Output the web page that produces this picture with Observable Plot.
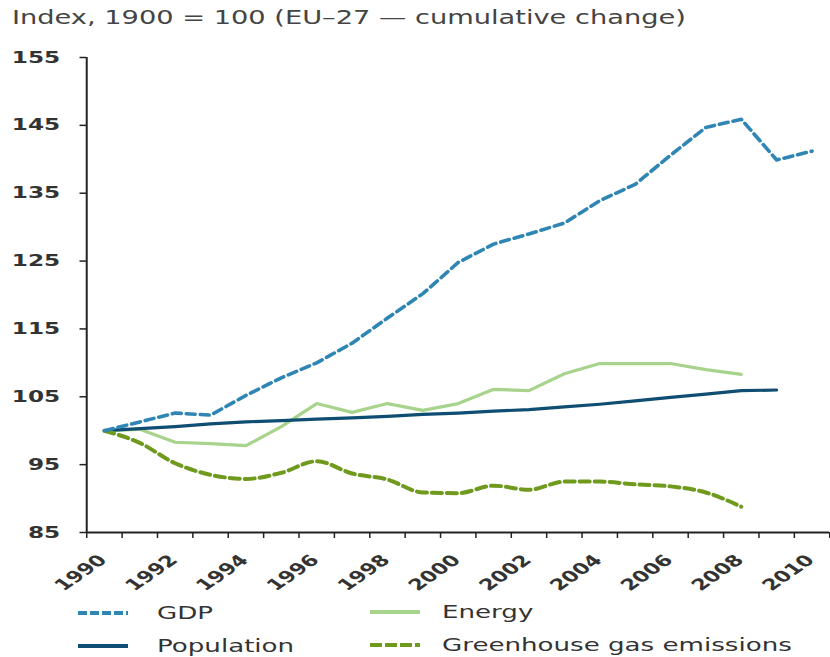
<!DOCTYPE html>
<html>
<head>
<meta charset="utf-8">
<script src="https://cdn.jsdelivr.net/npm/d3@7"></script>
<script src="https://cdn.jsdelivr.net/npm/@observablehq/plot@0.6"></script>
<style>
  body { margin: 0; background: #fff; font-family: "DejaVu Sans", Verdana, sans-serif; }
  #wrap { position: relative; width: 830px; height: 657px; overflow: hidden; background: #fff; }
  #title { position: absolute; left: 12px; top: 7px; font-size: 18.8px; color: #444; white-space: nowrap;
           transform: scaleX(1.45); transform-origin: 0 0; }
  #chart { position: absolute; left: 0; top: 40px; }
  #chart svg path, #chart svg line { vector-effect: non-scaling-stroke; }
  .sw { position: absolute; }
  .lt { position: absolute; font-size: 18px; color: #333; white-space: nowrap; line-height: 20px;
        transform: scaleX(1.45); transform-origin: 0 50%; }
</style>
</head>
<body>
<div id="wrap">
  <div id="title">Index, 1900 = 100 (EU–27 — cumulative change)</div>
  <div id="chart"></div>
  <div id="legend"></div>
</div>
<script>
// ---- data ----
const years = [1990, 1991, 1992, 1993, 1994, 1995, 1996, 1997, 1998, 1999, 2000,
               2001, 2002, 2003, 2004, 2005, 2006, 2007, 2008, 2009, 2010];
const gdp = [100, 101.3, 102.6, 102.3, 105.2, 107.8, 110.0, 112.9, 116.6, 120.2, 124.8,
             127.5, 129.0, 130.6, 133.9, 136.3, 140.6, 144.7, 145.9, 139.9, 141.2];
const population = [100, 100.3, 100.6, 101.0, 101.3, 101.5, 101.7, 101.9, 102.1, 102.4,
                    102.6, 102.9, 103.1, 103.5, 103.9, 104.4, 104.9, 105.4, 105.9, 106.0];
const energy = [100, 100.2, 98.3, 98.1, 97.8, 100.6, 104.0, 102.7, 104.0, 103.0, 104.0,
                106.1, 105.9, 108.4, 109.9, 109.9, 109.9, 109.0, 108.3];
const ghg = [100, 98.2, 95.2, 93.5, 92.9, 93.8, 95.5, 93.7, 92.8, 90.9, 90.8,
             91.9, 91.3, 92.5, 92.5, 92.1, 91.8, 90.9, 88.8];
const yTicks = [85, 95, 105, 115, 125, 135, 145, 155];
const xLabelYears = [1990, 1992, 1994, 1996, 1998, 2000, 2002, 2004, 2006, 2008, 2010];

const seriesNames = ["GDP", "Energy", "Population", "Greenhouse gas emissions"];
const seriesColors = ["#2f86b4", "#a7d38c", "#0f4e72", "#6f9a1e"];

// ---- build ----
const sx = 1.45;             // horizontal stretch of the reference image
const W = 830 / sx, H = 560;
const rowsOf = (vals) => vals.map((v, i) => ({year: years[i], value: v}));
const boundaries = d3.range(years[0] - 0.5, years[years.length - 1] + 1, 1);

const chart = Plot.plot({
  width: W, height: H,
  marginLeft: 86 / sx, marginRight: 1 / sx, marginTop: 17, marginBottom: 68,
  x: {domain: [years[0] - 0.5, years[years.length - 1] + 0.5]},
  y: {domain: [yTicks[0], yTicks[yTicks.length - 1]]},
  style: {fontFamily: "DejaVu Sans, Verdana, sans-serif", fontSize: "16px", fontWeight: "bold", color: "#333", background: "transparent"},
  marks: [
    Plot.axisY({ticks: yTicks, tickSize: 6.5 / sx, tickPadding: 20 / sx, label: null, stroke: "#222", strokeWidth: 1.5}),
    Plot.axisX({ticks: boundaries, tickSize: 6, tickFormat: () => "", label: null, stroke: "#222", strokeWidth: 1.5}),
    Plot.axisX({ticks: xLabelYears, tickSize: 0, tickRotate: -45, tickPadding: 17, dx: -1, dy: 8, fontSize: 15.5, tickFormat: d => String(d), label: null}),
    Plot.ruleX([years[0] - 0.5], {stroke: "#222", strokeWidth: 2}),
    Plot.ruleY([yTicks[0]], {stroke: "#222", strokeWidth: 2}),
    Plot.line(rowsOf(energy), {x: "year", y: "value", stroke: seriesColors[1], strokeWidth: 3.2}),
    Plot.line(rowsOf(population), {x: "year", y: "value", stroke: seriesColors[2], strokeWidth: 3.2}),
    Plot.line(rowsOf(ghg), {x: "year", y: "value", stroke: seriesColors[3], strokeWidth: 4, strokeDasharray: "10,5", curve: "monotone-x"}),
    Plot.line(rowsOf(gdp), {x: "year", y: "value", stroke: seriesColors[0], strokeWidth: 3.6, strokeDasharray: "9,5"})
  ]
});
chart.setAttribute("width", 830);
chart.setAttribute("preserveAspectRatio", "none");
chart.style.width = "830px";
chart.style.height = H + "px";
chart.style.maxWidth = "none";
document.getElementById("chart").appendChild(chart);

// ---- legend ----
const legend = document.getElementById("legend");
const legItems = [
  {name: seriesNames[0], color: seriesColors[0], dash: "9,3", sw: 78, tx: 157, cy: 613},
  {name: seriesNames[1], color: seriesColors[1], dash: null, sw: 370, tx: 442, cy: 612},
  {name: seriesNames[2], color: seriesColors[2], dash: null, sw: 78, tx: 157, cy: 646},
  {name: seriesNames[3], color: seriesColors[3], dash: "12,3", sw: 370, tx: 442, cy: 645}
];
for (const it of legItems) {
  const s = d3.create("svg").attr("class", "sw").attr("width", 50).attr("height", 8)
    .style("left", it.sw + "px").style("top", (it.cy - 4) + "px");
  s.append("line").attr("x1", 0).attr("x2", 50).attr("y1", 4).attr("y2", 4)
    .attr("stroke", it.color).attr("stroke-width", 4).attr("stroke-dasharray", it.dash);
  legend.appendChild(s.node());
  const t = document.createElement("div");
  t.className = "lt";
  t.textContent = it.name;
  t.style.left = it.tx + "px";
  t.style.top = (it.cy - 10) + "px";
  legend.appendChild(t);
}
</script>
</body>
</html>
